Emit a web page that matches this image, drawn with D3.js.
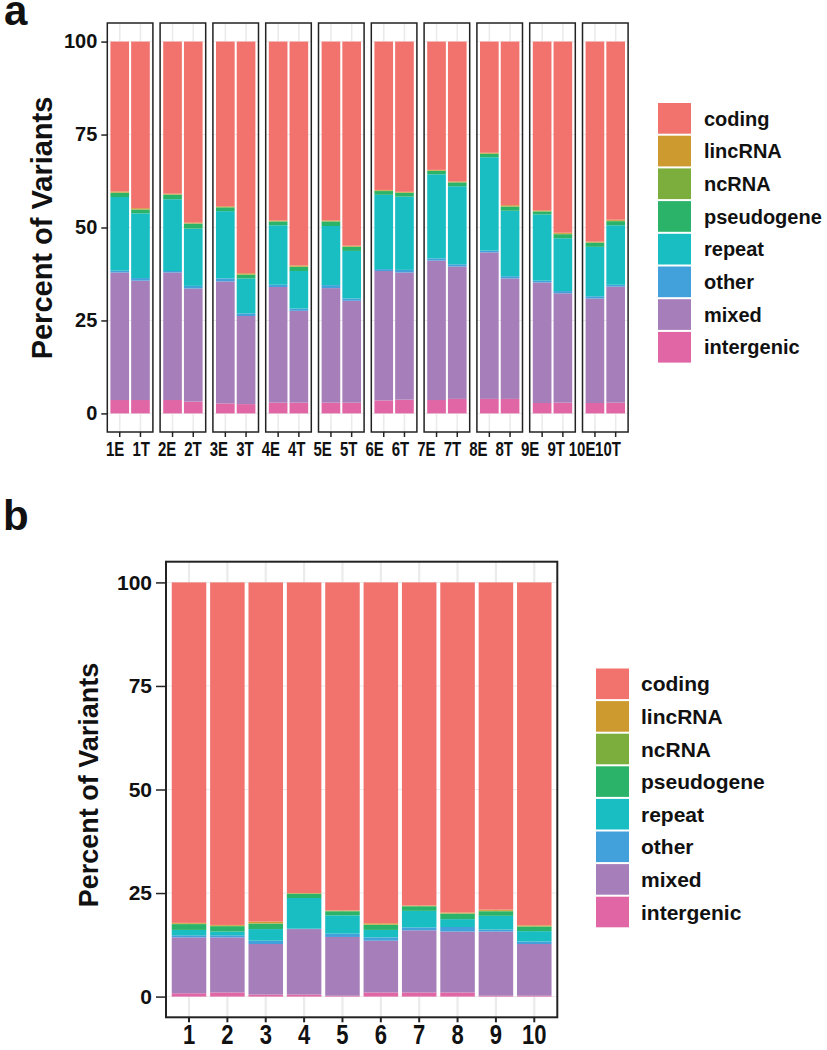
<!DOCTYPE html>
<html><head><meta charset="utf-8">
<script src="https://cdn.jsdelivr.net/npm/d3@7/dist/d3.min.js"></script>
<style>body{margin:0;background:#fff}svg{display:block;font-family:"Liberation Sans",Arial,sans-serif;font-weight:bold}</style>
</head><body><svg id="c" width="827" height="1050"></svg>
<script>
// categories (legend order, top of stack first)
const types = ["coding","lincRNA","ncRNA","pseudogene","repeat","other","mixed","intergenic"];
const colors = ["#F2736D","#CC9A2F","#7CAE3E","#2CB36A","#19BEC3","#42A0DA","#A67FBA","#E066A5"];
const yTicks = [0,25,50,75,100];

// panel a: samples 1..10, each E and T
const samplesA = ["1","2","3","4","5","6","7","8","9","10"];
const groupsA = ["E","T"];
// values (percent), stack order bottom->top: intergenic, mixed, other, repeat, pseudogene, ncRNA, lincRNA ; coding = rest
const aIntergenic = [3.6,3.6, 3.6,3.2, 2.7,2.5, 2.9,2.9, 2.9,2.9, 3.5,3.7, 3.6,3.9, 3.9,3.9, 2.8,2.9, 2.8,2.9];
const aMixed      = [34.3,32.1, 34.3,30.4, 32.8,23.7, 31.1,24.7, 30.8,27.4, 34.8,34.2, 37.5,35.6, 39.4,32.4, 32.4,29.4, 28.1,31.2];
const aOther      = [0.5,0.7, 0.4,0.7, 0.8,0.7, 0.6,0.6, 0.8,0.6, 0.5,0.7, 0.6,0.6, 0.5,0.6, 0.5,0.6, 0.6,0.5];
const aRepeat     = [19.8,17.4, 19.3,15.4, 18.1,9.4, 16.0,10.1, 15.9,12.8, 20.0,19.7, 22.6,21.0, 25.1,17.6, 17.8,14.2, 13.3,16.0];
const aPseudo     = [1.1,1.0, 1.2,1.3, 1.0,1.0, 1.0,1.1, 1.2,1.1, 1.0,1.0, 0.9,1.0, 0.9,1.1, 0.8,1.1, 1.1,1.1];
const aNcRNA      = [0.1,0.1, 0.1,0.1, 0.1,0.1, 0.1,0.1, 0.1,0.1, 0.1,0.1, 0.1,0.1, 0.1,0.1, 0.1,0.1, 0.1,0.1];
const aLincRNA    = [0.3,0.3, 0.2,0.2, 0.2,0.3, 0.2,0.3, 0.2,0.2, 0.2,0.2, 0.2,0.2, 0.2,0.3, 0.2,0.3, 0.2,0.3];

// panel b: samples 1..10
const samplesB = ["1","2","3","4","5","6","7","8","9","10"];
const bIntergenic = [0.8,1.0,0.5,0.5,0.2,1.0,1.0,1.0,0.2,0.2];
const bMixed      = [13.5,13.3,12.2,15.8,14.2,12.5,15.0,14.7,15.5,12.5];
const bOther      = [0.5,0.5,0.8,0.1,0.8,0.8,0.7,1.1,0.5,0.6];
const bRepeat     = [1.3,0.9,2.8,7.4,4.4,1.8,4.0,1.9,3.3,2.5];
const bPseudo     = [1.4,1.3,1.3,1.0,1.0,1.2,1.1,1.3,1.1,1.1];
const bNcRNA      = [0.1,0.1,0.1,0.1,0.1,0.1,0.1,0.1,0.1,0.1];
const bLincRNA    = [0.2,0.2,0.4,0.1,0.1,0.3,0.1,0.2,0.3,0.2];

const FONT = "'Liberation Sans',Arial,sans-serif";
const svg = d3.select("#c");
const color = d3.scaleOrdinal().domain(types).range(colors);

function makeRows(ids, arrs){
  return ids.map((id,i)=>{
    const r = {id, intergenic:arrs[0][i], mixed:arrs[1][i], other:arrs[2][i], repeat:arrs[3][i],
      pseudogene:arrs[4][i], ncRNA:arrs[5][i], lincRNA:arrs[6][i]};
    r.coding = 100 - (r.intergenic+r.mixed+r.other+r.repeat+r.pseudogene+r.ncRNA+r.lincRNA);
    return r;
  });
}
const stack = d3.stack().keys(types.slice().reverse());

function drawPanel(g, x, y, rows, x0, x1, y0, y1, opts){
  g.append("g").selectAll("line").data(yTicks).join("line")
    .attr("x1",x0).attr("x2",x1).attr("y1",d=>y(d)).attr("y2",d=>y(d))
    .attr("stroke","#ebebeb").attr("stroke-width",1);
  g.append("g").selectAll("line").data(rows).join("line")
    .attr("x1",d=>x(d.id)+x.bandwidth()/2).attr("x2",d=>x(d.id)+x.bandwidth()/2)
    .attr("y1",y0).attr("y2",y1).attr("stroke","#ebebeb").attr("stroke-width",opts.gridW);
  g.append("g").selectAll("g").data(stack(rows)).join("g").attr("fill",d=>color(d.key))
    .selectAll("rect").data(d=>d).join("rect")
    .attr("x",d=>x(d.data.id)).attr("width",x.bandwidth())
    .attr("y",d=>y(d[1])).attr("height",d=>Math.max(0,y(d[0])-y(d[1])));
  g.append("rect").attr("x",x0).attr("y",y1).attr("width",x1-x0).attr("height",y0-y1)
    .attr("fill","none").attr("stroke","#222").attr("stroke-width",opts.borderW);
}
function styleXText(ax, fs, base, sy){
  ax.selectAll("text").attr("fill","#111").attr("font-size",fs).attr("font-weight","bold")
    .attr("font-family",FONT).attr("y",0).attr("dy",0)
    .attr("transform",`translate(0,${base}) scale(1,${sy})`);
}

// ---------- panel a ----------
const aTop = 23, aBot = 432;
const yA = d3.scaleLinear().domain([-5,105]).range([aBot,aTop]);
const facetStart = 107.3, facetPitch = 52.8, facetW = 45.6;
const allIdsA = [];
samplesA.forEach((s,i)=>{
  const fx0 = facetStart + i*facetPitch, fx1 = fx0 + facetW;
  const ids = groupsA.map(g=>s+g);
  ids.forEach(d=>allIdsA.push(d));
  const xA = d3.scaleBand().domain(ids).range([fx0,fx1]).paddingInner(0.1).paddingOuter(0.15);
  const idx = [2*i, 2*i+1];
  const rows = makeRows(ids, [aIntergenic,aMixed,aOther,aRepeat,aPseudo,aNcRNA,aLincRNA].map(a=>idx.map(j=>a[j])));
  const g = svg.append("g");
  drawPanel(g, xA, yA, rows, fx0, fx1, aBot, aTop, {gridW:1.6, borderW:1.5});
  const ax = g.append("g").attr("transform",`translate(0,${aBot})`)
    .call(d3.axisBottom(xA).tickSize(5).tickFormat(""));
  ax.select(".domain").remove();
  ax.selectAll("line").attr("stroke","#222").attr("stroke-width",1.5);
});
// the tick labels of panel a sit on an even row under the facets
const xLabA = d3.scalePoint().domain(allIdsA).range([114.7, 607.5]);
const axLab = svg.append("g").attr("transform",`translate(0,${aBot})`)
  .call(d3.axisBottom(xLabA).tickSize(0));
axLab.select(".domain").remove();
axLab.selectAll("line").remove();
styleXText(axLab, 15, 23.5, 1.3);

const ayA = svg.append("g").attr("transform",`translate(${facetStart},0)`)
  .call(d3.axisLeft(yA).tickValues(yTicks).tickSize(6).tickPadding(4));
ayA.select(".domain").remove();
ayA.selectAll("line").attr("stroke","#222").attr("stroke-width",1.5);
ayA.selectAll("text").attr("fill","#111").attr("font-size",20).attr("font-weight","bold").attr("font-family",FONT);
svg.append("text").attr("transform","translate(52,228) rotate(-90)").attr("text-anchor","middle")
  .attr("font-size",29).attr("fill","#111").text("Percent of Variants");
svg.append("text").attr("x",4).attr("y",25).attr("font-size",42).attr("fill","#111").text("a");

// ---------- panel b ----------
const bx0 = 166, bx1 = 557.3, by0 = 1017.3, by1 = 561.7;
const yB = d3.scaleLinear().domain([-5,105]).range([by0,by1]);
const xB = d3.scaleBand().domain(samplesB).range([bx0,bx1]).paddingInner(0.1).paddingOuter(0.15);
const rowsB = makeRows(samplesB, [bIntergenic,bMixed,bOther,bRepeat,bPseudo,bNcRNA,bLincRNA]);
const gB = svg.append("g");
drawPanel(gB, xB, yB, rowsB, bx0, bx1, by0, by1, {gridW:2.2, borderW:2});
const axB = gB.append("g").attr("transform",`translate(0,${by0})`)
  .call(d3.axisBottom(xB).tickSize(5));
axB.select(".domain").remove();
axB.selectAll("line").attr("stroke","#222").attr("stroke-width",2);
styleXText(axB, 22, 27, 1.25);
const ayB = gB.append("g").attr("transform",`translate(${bx0},0)`)
  .call(d3.axisLeft(yB).tickValues(yTicks).tickSize(10).tickPadding(4));
ayB.select(".domain").remove();
ayB.selectAll("line").attr("stroke","#222").attr("stroke-width",1.5);
ayB.selectAll("text").attr("fill","#111").attr("font-size",21).attr("font-weight","bold").attr("font-family",FONT);
svg.append("text").attr("transform","translate(98,785) rotate(-90)").attr("text-anchor","middle")
  .attr("font-size",27).attr("fill","#111").text("Percent of Variants");
svg.append("text").attr("x",3).attr("y",530).attr("font-size",42).attr("fill","#111").text("b");

// ---------- legends ----------
function legend(x, y0, pitch, kw, tx, fs){
  const g = svg.append("g");
  const items = g.selectAll("g").data(types).join("g")
    .attr("transform",(d,i)=>`translate(0,${y0+i*pitch})`);
  items.append("rect").attr("x",x).attr("y",0).attr("width",kw).attr("height",pitch-2)
    .attr("fill",d=>color(d));
  items.append("text").attr("x",tx).attr("y",(pitch-2)/2).attr("dy","0.36em")
    .attr("font-size",fs).attr("fill","#111").text(d=>d);
}
legend(658, 103, 32.7, 33, 704, 20);
legend(596, 668.5, 32.6, 33, 641, 21);
</script></body></html>
